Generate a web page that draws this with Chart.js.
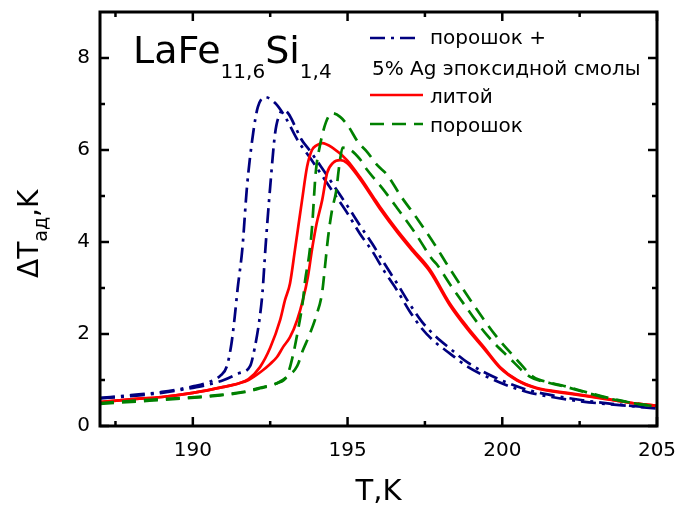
<!DOCTYPE html>
<html>
<head>
<meta charset="utf-8">
<script src="https://cdn.jsdelivr.net/npm/chart.js@4.4.1/dist/chart.umd.min.js"></script>
<style>
html,body{margin:0;padding:0;background:#fff;}
canvas{display:block;}
</style>
</head>
<body>
<canvas id="c" width="680" height="506"></canvas>
<script>
// ---- data (T in K, ΔT_ad in K) ----
const blue1T = [187,188,189,190,190.5,190.9,191.1,191.25,191.35,191.45,191.6,191.75,191.95,192.1,192.33,192.66,193.0,193.4,193.8,194.2,194.6,195.0,195.4,195.8,196.2,196.6,197.0,197.4,197.8,198.3,198.9,199.5,200.2,200.8,201.6,202.6,203.7,205];
const blue1V = [0.61,0.67,0.74,0.86,0.95,1.1,1.3,1.8,2.35,3.0,3.85,5.2,6.37,6.93,7.15,7.02,6.7,6.2,5.82,5.42,5.02,4.62,4.18,3.8,3.35,2.95,2.5,2.12,1.84,1.58,1.28,1.07,0.87,0.74,0.63,0.53,0.46,0.38];
const blue2T = [187,188,189,190,190.5,191.0,191.5,191.85,192.0,192.15,192.25,192.35,192.5,192.66,192.82,192.92,193.1,193.3,193.5,193.8,194.2,194.6,195.0,195.4,195.8,196.2,196.6,197.0,197.4,197.8,198.3,198.9,199.5,200.2,200.8,201.6,202.6,203.7,205];
const blue2V = [0.6,0.65,0.72,0.83,0.9,1.0,1.15,1.3,1.7,2.3,2.9,3.9,5.2,6.37,6.8,6.87,6.78,6.52,6.24,5.97,5.58,5.18,4.78,4.36,3.96,3.52,3.1,2.66,2.27,1.98,1.69,1.37,1.14,0.93,0.79,0.67,0.56,0.47,0.39];
const red1T = [187,188,189,190,191,191.5,191.8,192.17,192.5,192.82,192.98,193.14,193.3,193.53,193.69,193.85,194.0,194.18,194.53,194.98,195.4,195.83,196.05,196.6,197.12,197.67,198.3,198.87,199.4,199.93,200.48,201.1,202.1,203.2,204.2,205];
const red1V = [0.52,0.58,0.63,0.72,0.85,0.93,1.02,1.28,1.7,2.3,2.74,3.1,3.83,4.91,5.63,6.0,6.1,6.15,6.04,5.78,5.41,4.98,4.76,4.26,3.83,3.39,2.67,2.15,1.72,1.28,1.0,0.83,0.72,0.61,0.5,0.44];
const red2T = [187,188,189,190,191,191.5,191.8,192.2,192.5,192.72,192.92,193.14,193.37,193.56,193.72,193.85,194.0,194.18,194.34,194.53,194.76,194.98,195.4,195.83,196.05,196.6,197.12,197.67,198.3,198.87,199.4,199.93,200.48,201.1,202.1,203.2,204.2,205];
const red2V = [0.52,0.58,0.63,0.72,0.85,0.93,1.0,1.18,1.35,1.5,1.72,1.93,2.3,2.75,3.25,3.83,4.4,4.91,5.5,5.72,5.78,5.72,5.37,4.94,4.72,4.22,3.79,3.35,2.63,2.11,1.69,1.26,0.99,0.82,0.71,0.6,0.5,0.44];
const greenAT = [187,188.6,189.7,190.8,191.7,192.17,192.72,193.05,193.24,193.4,193.56,193.63,193.76,193.85,193.97,194.1,194.3,194.5,194.76,195.02,195.34,195.63,195.96,196.28,196.7,197.28,197.83,198.19,198.64,199.19,199.77,200.42,201.0,201.5,202.0,202.8,203.5,204.2,205];
const greenAV = [0.5,0.57,0.61,0.67,0.75,0.83,0.93,1.1,1.55,2.09,2.74,3.17,3.72,4.3,5.5,6.07,6.6,6.8,6.72,6.52,6.17,5.96,5.67,5.46,5.02,4.48,3.93,3.54,3.07,2.52,1.98,1.48,1.07,0.95,0.87,0.72,0.6,0.5,0.42];
const greenBT = [187,188.6,189.7,190.8,191.7,192.17,192.72,193.05,193.37,193.56,193.75,194.0,194.18,194.27,194.37,194.5,194.63,194.73,194.84,195.1,195.4,195.63,195.9,196.12,196.6,197.18,197.73,197.9,198.32,198.9,199.5,200.2,200.9,201.5,202.0,202.8,203.5,204.2,205];
const greenBV = [0.48,0.55,0.6,0.66,0.74,0.82,0.93,1.07,1.3,1.65,1.95,2.42,2.91,3.46,4.1,4.7,5.1,5.65,6.05,6.0,5.8,5.57,5.35,5.17,4.74,4.2,3.63,3.5,3.07,2.52,1.98,1.5,1.07,0.94,0.86,0.71,0.59,0.5,0.42];

const xTicks = [190,195,200,205];
const xMinor = [187.5,192.5,197.5,202.5];
const yTicks = [0,2,4,6,8];
const yMinor = [1,3,5,7];

const legendLabels = ['порошок +','5% Ag эпоксидной смолы','литой','порошок'];

const BLUE = '#00007f', RED = '#ff0000', GREEN = '#008000';
const DASH_BLUE = [15,6,3,6], DASH_GREEN = [14,8];
const FONT = "'DejaVu Sans', sans-serif";

const pts = (T, V) => T.map((t, i) => ({x: t, y: V[i]}));
const ds = (T, V, color, dash, order) => ({
  data: pts(T, V), borderColor: color, borderWidth: 2.7, borderDash: dash,
  pointRadius: 0, showLine: true, fill: false, cubicInterpolationMode: 'monotone', order
});

const decor = {
  id: 'decor',
  afterDraw(chart) {
    const {ctx, chartArea: a, scales: {x, y}} = chart;
    ctx.save();
    ctx.strokeStyle = '#000';
    ctx.lineWidth = 2.5;
    const line = (x1, y1, x2, y2) => { ctx.beginPath(); ctx.moveTo(x1, y1); ctx.lineTo(x2, y2); ctx.stroke(); };
    xTicks.forEach(v => { const p = x.getPixelForValue(v); line(p, a.bottom, p, a.bottom - 9); line(p, a.top, p, a.top + 9); });
    xMinor.forEach(v => { const p = x.getPixelForValue(v); line(p, a.bottom, p, a.bottom - 5); line(p, a.top, p, a.top + 5); });
    yTicks.forEach(v => { const p = y.getPixelForValue(v); line(a.left, p, a.left + 9, p); line(a.right, p, a.right - 9, p); });
    yMinor.forEach(v => { const p = y.getPixelForValue(v); line(a.left, p, a.left + 5, p); line(a.right, p, a.right - 5, p); });
    ctx.lineWidth = 3;
    ctx.strokeRect(a.left, a.top, a.right - a.left, a.bottom - a.top);

    // legend
    ctx.lineWidth = 2.7;
    ctx.fillStyle = '#000';
    ctx.font = '20px ' + FONT;
    ctx.textBaseline = 'alphabetic';
    const sample = (x1, x2, yy, col, dash) => { ctx.strokeStyle = col; ctx.setLineDash(dash); line(x1, yy, x2, yy); ctx.setLineDash([]); };
    sample(370, 418, 38, BLUE, DASH_BLUE);
    ctx.fillText(legendLabels[0], 430, 44);
    ctx.fillText(legendLabels[1], 372, 75);
    sample(370, 423, 95, RED, []);
    ctx.fillText(legendLabels[2], 430, 103);
    sample(370, 423, 124, GREEN, DASH_GREEN);
    ctx.fillText(legendLabels[3], 430, 132);

    // compound label
    let cx = 133;
    const part = (txt, size, base) => { ctx.font = size + 'px ' + FONT; ctx.fillText(txt, cx, base); cx += ctx.measureText(txt).width; };
    part('LaFe', 38, 63); part('11,6', 20, 78); part('Si', 38, 63); part('1,4', 20, 78);

    // x title
    ctx.font = '29px ' + FONT;
    ctx.textAlign = 'center';
    ctx.fillText('T,K', (a.left + a.right) / 2, 500);
    ctx.textAlign = 'left';

    // y title
    ctx.translate(38, 278);
    ctx.rotate(-Math.PI / 2);
    cx = 0;
    part('ΔT', 28, 0); part('ад', 19, 9); part(',K', 28, 0);
    ctx.restore();
  }
};

new Chart(document.getElementById('c'), {
  type: 'scatter',
  data: {
    datasets: [
      ds(blue1T, blue1V, BLUE, DASH_BLUE, 3),
      ds(blue2T, blue2V, BLUE, DASH_BLUE, 3),
      ds(red1T, red1V, RED, [], 2),
      ds(red2T, red2V, RED, [], 2),
      ds(greenAT, greenAV, GREEN, DASH_GREEN, 1),
      ds(greenBT, greenBV, GREEN, DASH_GREEN, 1)
    ]
  },
  options: {
    responsive: false,
    animation: false,
    layout: {padding: {left: 0, right: 23, top: 12, bottom: 0}},
    plugins: {legend: {display: false}, tooltip: {enabled: false}},
    scales: {
      x: {
        type: 'linear', min: 187, max: 205,
        grid: {display: false, drawTicks: false}, border: {display: false},
        ticks: {color: '#000', font: {family: FONT, size: 20}, padding: 13, maxRotation: 0},
        afterBuildTicks: s => { s.ticks = xTicks.map(v => ({value: v})); },
        afterFit: s => { s.height = 80; s.paddingLeft = 0; s.paddingRight = 0; }
      },
      y: {
        type: 'linear', min: 0, max: 9,
        grid: {display: false, drawTicks: false}, border: {display: false},
        ticks: {color: '#000', font: {family: FONT, size: 20}, padding: 10},
        afterBuildTicks: s => { s.ticks = yTicks.map(v => ({value: v})); },
        afterFit: s => { s.width = 100; s.paddingTop = 0; s.paddingBottom = 0; }
      }
    }
  },
  plugins: [decor]
});
</script>
</body>
</html>
